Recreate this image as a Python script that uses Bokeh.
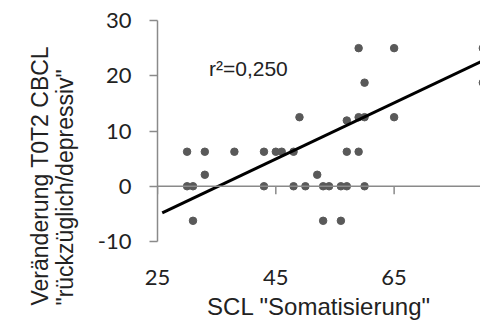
from bokeh.plotting import figure
from bokeh.models import FixedTicker, LinearAxis, Label, Range1d, Span, Title
from bokeh.embed import file_html
from bokeh.resources import INLINE

# data
scl = [30, 30, 31, 31, 33, 33, 38, 43, 43, 45, 46, 48, 48, 49, 50, 52, 53, 53,
       54, 56, 56, 57, 57, 57, 59, 59, 59, 60, 60, 60, 65, 65, 80, 80]
cbcl = [6.25, 0, 0, -6.25, 6.25, 2.08, 6.25, 6.25, 0, 6.25, 6.25, 6.25, 0, 12.5,
        0, 2.08, 0, -6.25, 0, 0, -6.25, 0, 6.25, 11.9, 6.25, 12.5, 25, 12.5,
        18.75, 0, 25, 12.5, 25, 18.75]
fit_x = [25.8, 80]
fit_y = [-4.8, 22.7]
x_ticks = [25, 45, 65, 85]
y_ticks = [-10, 0, 10, 20, 30]
r2_text = "r²=0,250"
x_title = "SCL \"Somatisierung\""
y_title = "Veränderung T0T2 CBCL\n\"rückzüglich/depressiv\""

AX = "#8a8a8a"
TICK_FONT = "Lato"
TITLE_FONT = "Liberation Sans"
TXT = "#222222"

p = figure(width=480, height=329, output_backend="svg", toolbar_location=None,
           x_range=Range1d(25, 79.6), y_range=Range1d(-10, 30),
           x_axis_location=None, y_axis_location="left",
           min_border_left=157, min_border_right=0, min_border_top=20,
           min_border_bottom=88)
p.outline_line_color = None
p.grid.visible = False
p.background_fill_color = "white"
p.border_fill_color = "white"

# y axis
ya = p.yaxis[0]
ya.ticker = FixedTicker(ticks=y_ticks)
ya.major_label_overrides = {t: str(t) for t in y_ticks}
ya.axis_line_color = AX
ya.axis_line_width = 1.5
ya.major_tick_line_color = AX
ya.major_tick_line_width = 1.5
ya.major_tick_out = 8
ya.major_tick_in = 0
ya.minor_tick_line_color = None
ya.major_label_text_font = TICK_FONT
ya.major_label_text_font_size = "22px"
ya.major_label_text_color = TXT
ya.major_label_standoff = 18

# y axis title (two lines), placed lower than the frame centre as in the reference
p.add_layout(Title(text=y_title, align="left", offset=-64,
                   text_font=TITLE_FONT, text_font_size="23px",
                   text_font_style="normal", text_color=TXT,
                   text_line_height=0.95, standoff=33), "left")

# x axis: labels at the bottom
xb = LinearAxis(ticker=FixedTicker(ticks=x_ticks))
xb.axis_line_color = None
xb.major_tick_line_color = None
xb.minor_tick_line_color = None
xb.major_tick_out = 0
xb.major_tick_in = 0
xb.major_label_text_font = TICK_FONT
xb.major_label_text_font_size = "22px"
xb.major_label_text_color = TXT
xb.major_label_standoff = 28
xb.axis_label = x_title
xb.axis_label_text_font = TITLE_FONT
xb.axis_label_text_font_size = "24px"
xb.axis_label_text_font_style = "normal"
xb.axis_label_text_color = TXT
xb.axis_label_standoff = 5
p.add_layout(xb, "below")

# x axis line crossing at y = 0, with its ticks pointing down
p.add_layout(Span(location=0, dimension="width", line_color=AX, line_width=1.5))
p.segment(x0=x_ticks, y0=[0] * len(x_ticks), x1=x_ticks, y1=[-1.45] * len(x_ticks),
          line_color=AX, line_width=1.5)

p.scatter(scl, cbcl, size=7.5, color="#595959")
p.line(fit_x, fit_y, line_width=3, color="black")

p.add_layout(Label(x=33.7, y=21.3, text=r2_text, text_baseline="middle",
                   text_font=TITLE_FONT, text_font_size="21px", text_color=TXT))

open("out.html", "w").write(file_html(p, INLINE))
